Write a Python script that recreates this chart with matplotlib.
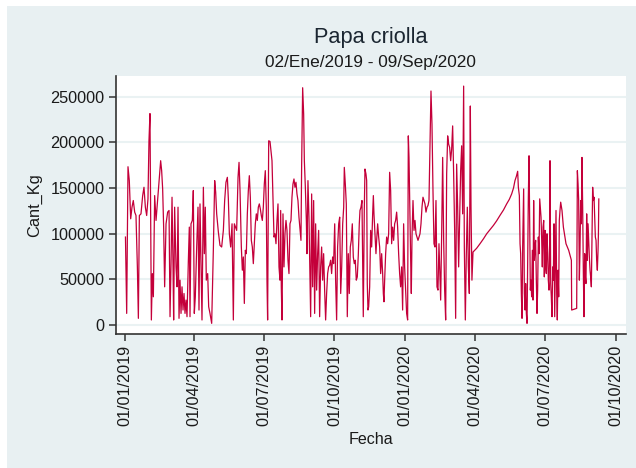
import matplotlib
matplotlib.use("Agg")
import matplotlib.pyplot as plt
import matplotlib.dates as mdates
from matplotlib.patches import Rectangle
import pandas as pd

# ---------------- data ----------------
title = "Papa criolla"
subtitle = "02/Ene/2019 - 09/Sep/2020"
x_label = "Fecha"
y_label = "Cant_Kg"
start_date = "2019-01-01"

# days after 2019-01-01
day_offset = [
    1.0, 1.8, 2.6, 4.3, 6.0, 7.8, 9.5, 11.2, 13.0, 14.7, 16.5, 17.8, 19.1, 21.2, 23.4, 25.1,
    26.9, 28.6, 30.3, 31.6, 32.9, 33.8, 34.7, 36.0, 37.3, 39.0, 40.8, 42.5, 45.1, 46.8, 48.1,
    49.4, 50.7, 52.0, 53.8, 55.9, 57.7, 59.0, 60.3, 61.6, 62.9, 63.7, 65.0, 66.8, 68.1, 69.4,
    70.7, 72.0, 73.3, 74.6, 75.9, 77.2, 78.5, 79.8, 81.1, 82.8, 84.1, 85.0, 86.3, 88.0, 89.3,
    90.6, 91.9, 93.7, 95.4, 96.7, 98.0, 99.3, 100.6, 102.4, 103.7, 104.9, 106.2, 108.0, 109.3,
    111.0, 113.2, 115.4, 117.1, 118.4, 119.7, 121.9, 124.0, 126.2, 128.4, 130.1, 131.8, 133.6,
    134.9, 136.2, 137.9, 139.7, 141.4, 142.7, 145.7, 147.5, 148.8,
    150.1, 151.8, 153.1, 154.4, 155.7, 157.0, 158.3, 159.6, 160.9, 162.2, 163.5, 164.8, 166.1,
    167.4, 168.7, 170.0, 171.3, 172.6, 173.9, 175.2, 176.5, 177.8, 179.1, 180.4, 181.7, 183.0,
    184.3, 185.2, 186.0, 187.4, 189.1, 190.4, 191.7, 193.0, 194.3, 195.6, 196.9, 198.2, 199.5,
    200.8, 202.1, 203.0, 203.8, 204.7, 206.0, 207.3, 208.6, 209.9, 211.2, 212.5, 213.8, 215.1,
    216.4, 217.7, 219.0, 220.3, 221.6, 222.9, 224.2, 225.5, 226.8, 228.1, 229.4, 230.3, 231.6,
    232.9, 233.8, 235.1, 236.4, 237.2, 238.5, 239.8, 241.2, 242.0, 243.3, 244.6, 245.9, 247.2,
    248.5, 249.8, 251.1, 252.4, 253.7, 255.0, 256.3, 257.6, 258.9, 260.2, 261.5, 262.8, 264.1,
    265.4, 266.7, 268.0, 269.3, 270.6, 271.9, 273.3, 274.5, 275.8, 277.1, 278.5, 279.8, 281.1,
    282.4, 283.7, 285.0, 285.8, 287.1, 288.4, 289.7, 291.0, 292.3, 293.6, 294.9, 296.2, 297.5,
    298.8, 300.1, 301.4, 302.7, 304.0, 305.3,
    306.2, 307.5, 308.8, 309.7, 310.5, 311.8, 312.7, 314.0, 314.9, 315.7, 316.6, 317.5, 318.8,
    320.1, 321.4, 322.7, 323.6, 324.4, 325.7, 327.0, 327.9, 329.2, 330.5, 331.8, 333.1, 334.4,
    335.7, 336.6, 337.4, 338.3, 339.6, 340.9, 342.2, 343.5, 344.8, 346.1, 347.4, 348.7, 350.0,
    351.3, 352.6, 353.9, 355.2, 356.5, 357.8, 359.1, 360.4, 361.7, 363.0, 364.3, 365.6, 366.9,
    368.2, 369.1, 370.0, 370.8, 372.1, 373.0, 373.9, 375.2, 376.5, 377.8, 379.1, 380.4, 381.7,
    383.0, 384.3, 385.6, 386.9, 388.2, 389.5, 390.8, 392.1, 393.4, 394.7, 396.0, 397.3, 398.6,
    399.9, 401.2, 402.5, 403.8, 405.1, 406.4, 407.7, 409.0, 410.3, 411.2, 412.5, 413.8, 415.1,
    416.4, 417.7, 419.0, 420.3, 421.6, 422.9, 424.2, 425.5, 426.8, 428.1, 429.4, 430.7, 432.0,
    433.3, 434.6, 435.9, 437.2, 438.5, 439.8, 441.1, 442.0, 443.3, 444.6, 445.9, 447.2, 448.5,
    449.8, 450.7, 451.9, 453.3,
    458.0, 462.4, 467.0, 471.1, 475.5, 479.8, 484.0, 488.4, 493.0, 497.1, 500.5, 503.6, 506.0,
    507.9, 509.8, 511.4,
    512.3, 513.6, 514.5, 515.3, 516.2, 517.1, 517.9, 519.2, 520.1, 521.0, 521.8, 522.7, 523.6,
    524.4, 525.3, 526.2, 527.0, 527.9, 528.8, 529.6, 530.5, 531.4, 532.2, 533.1, 534.0, 534.8,
    535.7, 536.6, 537.4, 538.3, 539.2, 540.1, 540.9, 541.8, 542.7, 543.5, 544.4, 545.3, 546.1,
    547.0, 547.9, 548.7, 549.6, 550.5, 551.3, 552.2, 553.1, 553.5, 554.4, 555.2, 556.1, 557.0,
    557.8, 558.7, 559.6, 560.4, 561.3, 562.2, 563.0, 563.9, 564.8, 565.6, 566.5, 567.4, 569.1,
    570.9, 574.3, 577.8, 581.3, 581.7, 588.2, 589.1, 590.0, 590.8, 591.7, 592.5, 593.4, 594.3,
    595.1, 596.0, 596.9, 597.7, 598.6, 599.5, 600.3, 601.2, 602.1, 603.0, 603.8, 604.7, 605.6,
    606.4, 607.3, 608.2, 609.0, 609.9, 610.8, 611.6, 612.5, 613.4, 614.2, 615.1, 616.0, 616.5,
    617.0,
]

cant_kg = [
    96300, 54500, 12700, 173300, 158100, 116300, 129000, 136300, 123600, 119900, 63600, 7300,
    119900, 121700, 141700, 150800, 129000, 119900, 138100, 201700, 231500, 118100, 5500,
    56300, 30900, 141700, 114500, 132600, 161700, 179900, 169000, 149000, 107200, 41800,
    110800, 123600, 125400, 9100, 67200, 139900, 63600, 5500, 129000, 63600, 41800, 129000,
    7300, 49100, 12700, 41800, 16400, 34500, 12700, 27300, 9100, 69000, 107200, 9100, 110800,
    114500, 147200, 12700, 30900, 85400, 129000, 16400, 132600, 69000, 5500, 150800, 78100,
    129000, 49100, 56300, 20000, 12700, 1800, 83600, 158100, 145400, 121700, 101800, 87200,
    85400, 103600, 136300, 156300, 161700, 138100, 99900, 85400, 110800, 5500, 110800,
    103600, 161700, 178100,
    147200, 85400, 60000, 74500, 23600, 81800, 78100, 121700, 147200, 163500, 139900, 92700,
    85400, 67200, 89000, 110800, 121700, 114500, 129000, 132600, 127200, 119900, 114500,
    129000, 154400, 169000, 129000, 47200, 5500, 201700, 201000, 190800, 179900, 136300,
    96300, 99900, 89000, 114500, 132600, 63600, 49100, 125400, 41800, 5500, 121700, 63600,
    99900, 114500, 103600, 70900, 56300, 110800, 114500, 139900, 154400, 159900, 150800,
    156300, 143500, 136300, 118100, 105400, 92700, 176200, 259800, 230800, 179900, 150800,
    114500, 78100, 158100, 118100, 45400, 9100, 143500, 41800, 136300, 12700, 110800, 38200,
    78100, 103600, 9100, 63600, 85400, 49100, 78100, 38200, 5500, 34500, 56300, 63600, 65400,
    70900, 56300, 74500, 67200, 110800, 49100, 5500, 85400, 110800, 118100, 34500, 63600,
    110800, 129000, 172600, 154400, 132600, 9100, 78100, 34500, 85400, 92700, 110800, 74500,
    67200, 70900, 49100, 52700, 76300, 110800,
    125400, 129000, 136300, 70900, 9100, 125400, 170800, 165300, 158100, 45400, 16400, 20000,
    41800, 103600, 85400, 121700, 141700, 121700, 99900, 78100, 92700, 110800, 96300, 85400,
    56300, 78100, 56300, 34500, 25400, 49100, 78100, 96300, 89000, 99900, 167200, 147200,
    89000, 107200, 92700, 110800, 114500, 123600, 107200, 78100, 56300, 41800, 63600, 16400,
    110800, 63600, 38200, 12700, 5500, 207100, 183500, 141700, 74500, 34500, 96300, 136300,
    103600, 114500, 99900, 96300, 92700, 96300, 99900, 110800, 129000, 139900, 136300,
    132600, 123600, 129000, 130800, 136300, 196200, 256200, 219900, 147200, 89000, 85400,
    136300, 41800, 38200, 89000, 52700, 27300, 99900, 183500, 92700, 38200, 5500, 165300,
    207100, 198000, 194400, 179900, 192600, 218000, 165300, 103600, 7300, 176200, 129000,
    63600, 114500, 169000, 196200, 121700, 261600, 85400, 5500, 78100, 129000, 63600, 34500,
    239800, 129000, 49100, 79900,
    84000, 89000, 94500, 99900, 104500, 109000, 114000, 120000, 126000, 132600, 137500,
    143500, 150000, 158100, 163000, 168300,
    150800, 141700, 89000, 78100, 34500, 7300, 85400, 149000, 34500, 16400, 45400, 12700,
    1800, 70900, 139900, 185300, 110800, 38200, 49100, 30900, 81800, 27300, 136300, 70900,
    85400, 92700, 49100, 12700, 38200, 96300, 78100, 138100, 129000, 118100, 92700, 63600,
    107200, 114500, 52700, 103600, 63600, 56300, 99900, 78100, 49100, 38200, 92700, 179900,
    45400, 30900, 9100, 63600, 49100, 110800, 9100, 63600, 125400, 34500, 5500, 60000, 30900,
    114500, 125400, 134500, 125400, 107200, 89000, 81800, 70900, 16400, 18200, 169000,
    154400, 136300, 49100, 81800, 136300, 110800, 183500, 129000, 56300, 9100, 78100, 52700,
    45400, 121700, 70900, 110800, 92700, 74500, 60000, 52700, 41800, 103600, 150800, 136300,
    139900, 118100, 96300, 92700, 70900, 60000, 81800, 100000, 138000,
]

x_tick_dates = ["2019-01-01", "2019-04-01", "2019-07-01", "2019-10-01",
                "2020-01-01", "2020-04-01", "2020-07-01", "2020-10-01"]
x_tick_labels = ["01/01/2019", "01/04/2019", "01/07/2019", "01/10/2019",
                 "01/01/2020", "01/04/2020", "01/07/2020", "01/10/2020"]
y_ticks = [0, 50000, 100000, 150000, 200000, 250000]
y_tick_labels = ["0", "50000", "100000", "150000", "200000", "250000"]

# ---------------- styling ----------------
W, H = 636, 468
BG = "#E8F0F2"
LINE = "#C4003A"
TXT = "#1a1a1a"
plt.rcParams["font.family"] = ["Liberation Sans", "DejaVu Sans"]

fig = plt.figure(figsize=(W / 100, H / 100), dpi=100, facecolor="white")
fig.patches.append(Rectangle((7 / W, 0), 1 - 7 / W, 1 - 6 / H, transform=fig.transFigure,
                             facecolor=BG, edgecolor="none", zorder=-10))

ax_l, ax_r, ax_t, ax_b = 115.7, 625.7, 76, 334
ax = fig.add_axes([ax_l / W, 1 - ax_b / H, (ax_r - ax_l) / W, (ax_b - ax_t) / H])
ax.set_facecolor("white")

n = min(len(day_offset), len(cant_kg))
dates = pd.Timestamp(start_date) + pd.to_timedelta(day_offset[:n], unit="D")
ax.plot(dates, cant_kg[:n], color=LINE, lw=0.9, zorder=3)

# axes limits
t0 = mdates.date2num(pd.Timestamp(x_tick_dates[0]))
t1 = mdates.date2num(pd.Timestamp(x_tick_dates[-1]))
ax.set_xlim(t0 - 11.7, t1 + 13)
ax.set_ylim(-9855, 272650)

ax.set_xticks([mdates.date2num(pd.Timestamp(d)) for d in x_tick_dates])
ax.set_xticklabels(x_tick_labels, rotation=90, fontsize=11.7, color=TXT)
ax.set_yticks(y_ticks)
ax.set_yticklabels(y_tick_labels, fontsize=11.7, color=TXT)
ax.tick_params(axis="both", length=5, width=1.1, color="#333333", pad=3)

ax.grid(axis="y", color="#EAF2F3", lw=1.5, zorder=1)
ax.set_axisbelow(True)

for s in ["top", "right"]:
    ax.spines[s].set_visible(False)
for s in ["left", "bottom"]:
    ax.spines[s].set_color("#333333")
    ax.spines[s].set_linewidth(1.2)

ax.set_xlabel(x_label, fontsize=11.6, color=TXT, labelpad=4)
ax.set_ylabel(y_label, fontsize=11.8, color=TXT, labelpad=6)

cx = (ax_l + ax_r) / 2 / W
fig.text(cx, 1 - 37 / H, title, ha="center", va="center", fontsize=15.7, color="#1b2631")
fig.text(cx, 1 - 62 / H, subtitle, ha="center", va="center", fontsize=12.4, color=TXT)

fig.savefig("out.png", dpi=100, facecolor=fig.get_facecolor())
